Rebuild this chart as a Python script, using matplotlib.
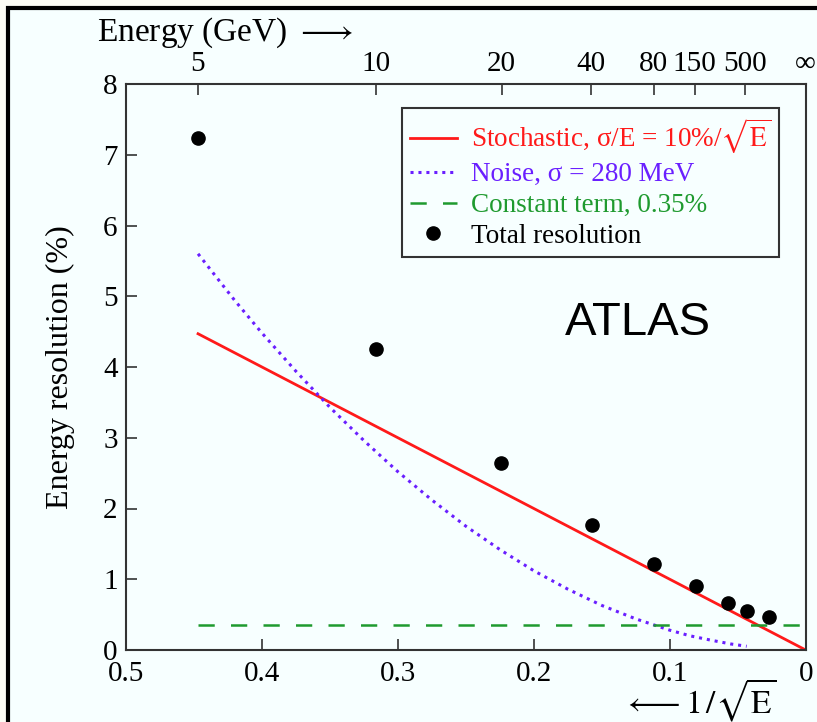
import numpy as np
import matplotlib.pyplot as plt
from matplotlib.patches import Rectangle

plt.rcParams['font.family'] = ['Liberation Serif', 'DejaVu Serif']
plt.rcParams['mathtext.fontset'] = 'stix'
plt.rcParams['font.size'] = 21

# total resolution points (x = 1/sqrt(E), y in %)
tot_x = [0.447, 0.316, 0.224, 0.157, 0.1115, 0.0808, 0.057, 0.0434, 0.027]
tot_y = [7.23, 4.25, 2.64, 1.77, 1.21, 0.91, 0.67, 0.555, 0.46]

# stochastic term, straight line
stoch_x = [0.447, 0.0]
stoch_y = [4.47, 0.0]

# noise term
noise_x = [0.447, 0.42, 0.4, 0.375, 0.35, 0.325, 0.3, 0.275, 0.25, 0.225, 0.2,
           0.175, 0.15, 0.125, 0.1, 0.085, 0.07, 0.055, 0.0434]
noise_y = [5.6, 4.94, 4.48, 3.94, 3.43, 2.96, 2.52, 2.12, 1.75, 1.42, 1.12,
           0.86, 0.63, 0.44, 0.28, 0.2, 0.14, 0.085, 0.053]

# constant term
const_x = [0.447, 0.0]
const_y = [0.35, 0.35]

# top axis energies
energies = [5, 10, 20, 40, 80, 150, 500]
energy_labels = ['5', '10', '20', '40', '80', '150', '500']

bg = '#f7ffff'
fig = plt.figure(figsize=(8.17, 7.22), dpi=100, facecolor='#fdfdf6')
# light panel with black frame on top / left
fig.patches.append(Rectangle((8 / 817, -0.05), 1.2, 1 - 8 / 722 + 0.05,
                             transform=fig.transFigure, facecolor=bg,
                             edgecolor='black', linewidth=3, zorder=-10))

ax = fig.add_axes([126 / 817, 1 - 650 / 722, (805.7 - 126) / 817, (650 - 84) / 722])
ax.set_facecolor(bg)

red, purple, green = '#ff1a1a', '#6a1fff', '#1f9a2f'
ax.plot(stoch_x, stoch_y, color=red, lw=2, label=r'Stochastic, σ/E = 10%/$\sqrt{\mathrm{E}}$')
ax.plot(noise_x, noise_y, color=purple, lw=2.2, linestyle=(0, (1, 1.6)), label='Noise, σ = 280 MeV')
ax.plot(const_x, const_y, color=green, lw=1.8, dashes=(6.5, 6.5), label='Constant term, 0.35%')
ax.plot(tot_x, tot_y, 'o', color='black', ms=9.5, label='Total resolution')

ax.set_xlim(0.5, 0)
ax.set_ylim(0, 8)
ax.set_xticks([0.5, 0.4, 0.3, 0.2, 0.1, 0])
ax.set_xticklabels(['0.5', '0.4', '0.3', '0.2', '0.1', '0'])
ax.set_yticks(range(0, 9))
ax.tick_params(direction='in', length=8, width=1.2, pad=8, color='#333333')
ax.tick_params(axis='y', pad=6)
for s in ax.spines.values():
    s.set_linewidth(1.5)
    s.set_color('#333333')

ax.set_ylabel('Energy resolution (%)', fontsize=23, labelpad=20)

ax2 = ax.twiny()
ax2.set_xlim(ax.get_xlim())
ax2.set_xticks([1 / np.sqrt(e) for e in energies] + [0.0])
ax2.set_xticklabels(energy_labels + ['∞'])
ax2.tick_params(direction='in', length=8, width=1.2, pad=5, color='#333333')
ax2.xaxis.get_ticklines()[-2].set_visible(False)
for s in ax2.spines.values():
    s.set_visible(False)

fig.text(97 / 817, 1 - 33 / 722, r'Energy (GeV) $\longrightarrow$', fontsize=24,
         ha='left', va='center')
fig.text(777 / 817, 1 - 700 / 722, r'$\longleftarrow 1\,/\sqrt{\mathrm{E}}$', fontsize=24,
         ha='right', va='center')

ax.text(0.1235, 4.62, 'ATLAS', family='Liberation Sans', fontsize=34, ha='center', va='center')

leg = ax.legend(loc='upper right', bbox_to_anchor=(0.961, 0.957), fontsize=19.5,
                frameon=True, fancybox=False, handlelength=1.75, handletextpad=0.5,
                labelspacing=0.22, borderpad=0.3, borderaxespad=0)
leg.get_frame().set_edgecolor('#333333')
leg.get_frame().set_linewidth(1.5)
leg.get_frame().set_facecolor(bg)
leg.get_frame().set_alpha(1)
for txt, c in zip(leg.get_texts(), [red, purple, green, 'black']):
    txt.set_color(c)

fig.savefig('out.png', dpi=100, facecolor=fig.get_facecolor())
